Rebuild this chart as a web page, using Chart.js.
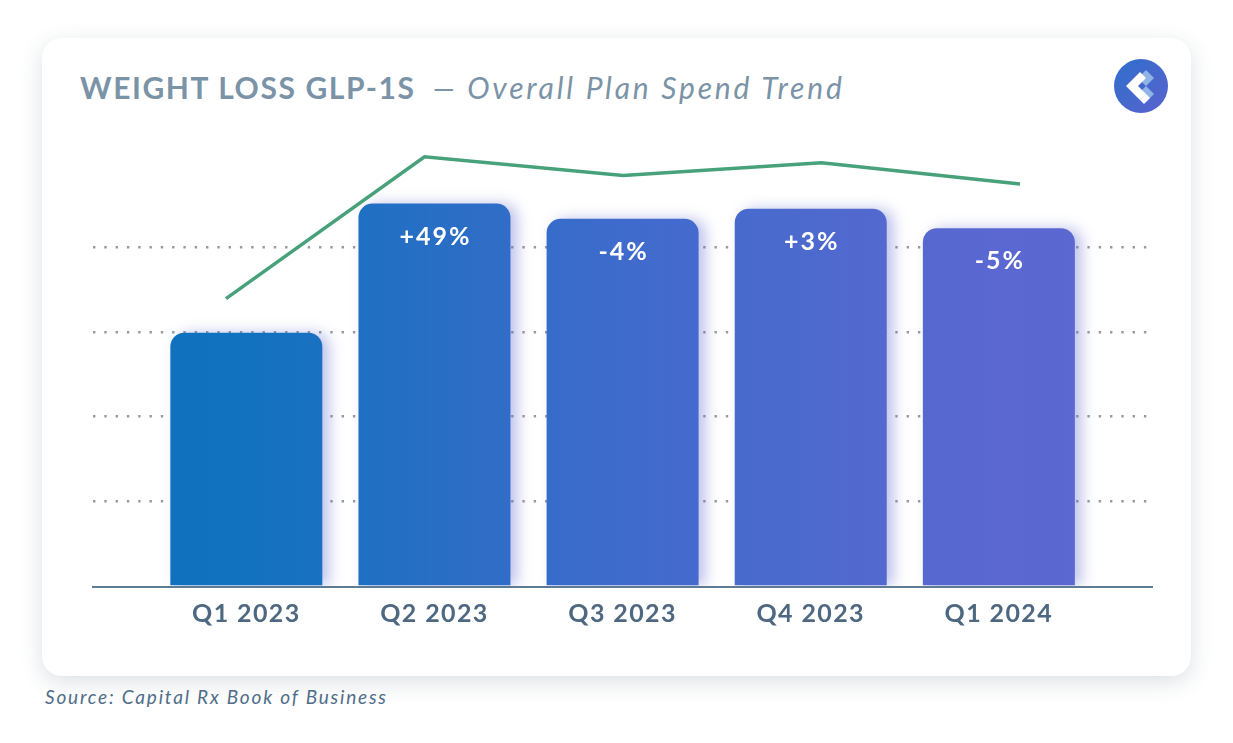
<!DOCTYPE html>
<html>
<head>
<meta charset="utf-8">
<script src="https://cdn.jsdelivr.net/npm/chart.js@4.4.1/dist/chart.umd.min.js"></script>
<style>
  html, body { margin: 0; padding: 0; background: #ffffff; }
  body { width: 1233px; height: 743px; position: relative; overflow: hidden; font-family: Lato, "Open Sans", sans-serif; }
  #card { position: absolute; left: 42px; top: 38px; width: 1149px; height: 638px; background: #fff; border-radius: 20px;
          box-shadow: 0 6px 22px rgba(40, 60, 80, 0.16); }
  #title { position: absolute; left: 80px; top: 72px; line-height: 30px; font-size: 30px; color: #7b93a7; white-space: nowrap; }
  #title b { font-weight: 700; letter-spacing: 1.6px; }
  #title i { font-weight: 400; letter-spacing: 2.8px; margin-left: 17px; }
  #source { position: absolute; left: 45px; top: 686px; font-size: 19px; line-height: 22px; font-style: italic; color: #4f6d89; letter-spacing: 1.8px; white-space: nowrap; }
  #logo { position: absolute; left: 1114px; top: 59px; width: 54px; height: 54px; }
  #wrap { position: absolute; left: 0; top: 0; width: 1233px; height: 743px; }
</style>
</head>
<body>
<div id="card"></div>
<div id="title"><b>WEIGHT LOSS GLP-1S</b><i>— Overall Plan Spend Trend</i></div>
<svg id="logo" viewBox="-27 -27 54 54">
  <defs>
    <linearGradient id="lg" x1="0" y1="0" x2="1" y2="1">
      <stop offset="0" stop-color="#2f6fcb"/>
      <stop offset="1" stop-color="#5a62cf"/>
    </linearGradient>
  </defs>
  <circle cx="0" cy="0" r="27" fill="url(#lg)"/>
  <polygon points="5,-16 13,-8 5,0 -3,-8" fill="#8fb4e6"/>
  <polygon points="5,0 13,8 5,16 -3,8" fill="#8fb4e6"/>
  <polygon points="-15,0 -1,-14 5,-8 -3,0 5,8 -1,14" fill="#ffffff"/>
  <polygon points="5,8 -1,14 3,18 9,12" fill="#ffffff"/>
</svg>
<div id="source">Source: Capital Rx Book of Business</div>
<div id="wrap"><canvas id="c"></canvas></div>
<script>
// ---- data ----
const categories = ["Q1 2023", "Q2 2023", "Q3 2023", "Q4 2023", "Q1 2024"];
const spend = [2.99, 4.51, 4.33, 4.45, 4.22];
const changeLabels = ["", "+49%", "-4%", "+3%", "-5%"];
const trend = [3.39, 5.06, 4.84, 4.99, 4.74];

const barShadow = {
  id: 'barShadow',
  beforeDatasetDraw(chart, args) {
    if (chart.getDatasetMeta(args.index).type === 'bar') {
      const c = chart.ctx; c.save();
      c.shadowColor = 'rgba(85, 95, 205, 0.38)';
      c.shadowBlur = 14; c.shadowOffsetX = 7; c.shadowOffsetY = 0;
    }
  },
  afterDatasetDraw(chart, args) {
    if (chart.getDatasetMeta(args.index).type === 'bar') chart.ctx.restore();
  }
};

const valueLabels = {
  id: 'valueLabels',
  afterDatasetsDraw(chart) {
    const meta = chart.getDatasetMeta(1);
    const c = chart.ctx;
    c.save();
    c.font = 'bold 25px Lato, "Open Sans", sans-serif';
    c.fillStyle = '#ffffff';
    c.textAlign = 'center';
    c.textBaseline = 'middle';
    c.letterSpacing = '2px';
    meta.data.forEach((el, i) => {
      if (changeLabels[i]) c.fillText(changeLabels[i], el.x + 1, el.y + 33);
    });
    c.restore();
  }
};

const spacing = {
  id: 'spacing',
  beforeDraw(chart) { chart.ctx.letterSpacing = '1.4px'; }
};

function barGradient(ctx) {
  const chart = ctx.chart; const a = chart.chartArea;
  if (!a) return '#2a6fc8';
  const g = chart.ctx.createLinearGradient(a.left, 0, a.right, 0);
  g.addColorStop(0, '#0f72be');
  g.addColorStop(0.145, '#1172bf');
  g.addColorStop(0.5, '#3f6bcc');
  g.addColorStop(0.855, '#5b68d1');
  g.addColorStop(1, '#5d67d2');
  return g;
}

new Chart(document.getElementById('c'), {
  data: {
    datasets: [
      {
        type: 'line',
        data: trend.map((v, i) => ({ x: i, y: v })),
        xAxisID: 'x2', yAxisID: 'y',
        borderColor: '#47a27c', borderWidth: 3.5, pointRadius: 0, tension: 0,
        order: 0
      },
      {
        type: 'bar',
        data: spend.map((v, i) => ({ x: i, y: v })),
        xAxisID: 'x', yAxisID: 'y',
        backgroundColor: barGradient,
        grouped: false,
        categoryPercentage: 1,
        barPercentage: 0.808,
        maxBarThickness: 152,
        borderRadius: 14,
        borderSkipped: 'start',
        order: 1
      }
    ]
  },
  options: {
    responsive: true,
    maintainAspectRatio: false,
    animation: false,
    events: [],
    layout: { padding: { left: 93, right: 81, top: 136.5, bottom: 102.5 } },
    plugins: { legend: { display: false }, tooltip: { enabled: false } },
    scales: {
      x: {
        type: 'linear', position: 'bottom', offset: false,
        min: -0.815, max: 4.814,
        afterBuildTicks: (s) => { s.ticks = categories.map((_, i) => ({ value: i })); },
        ticks: {
          autoSkip: false, maxRotation: 0, padding: 12,
          color: '#4d6880',
          font: { family: 'Lato, "Open Sans", sans-serif', size: 25, weight: 'bold' },
          callback: (v) => categories[Math.round(v)]
        },
        grid: { display: false, drawTicks: false, offset: false },
        border: { display: true, color: '#5f7c92', width: 2 }
      },
      x2: {
        type: 'linear', display: false, offset: false,
        min: -0.670, max: 4.665
      },
      y: {
        type: 'linear', min: 0, max: 5.3,
        ticks: { display: false, stepSize: 1 },
        grid: {
          drawTicks: false, lineWidth: 2.4,
          color: (ctx) => (ctx.tick && ctx.tick.value >= 1 && ctx.tick.value <= 4) ? '#969ba0' : 'rgba(0,0,0,0)'
        },
        border: { display: false, dash: [2.4, 8.9] }
      }
    }
  },
  plugins: [spacing, barShadow, valueLabels]
});
</script>
</body>
</html>
